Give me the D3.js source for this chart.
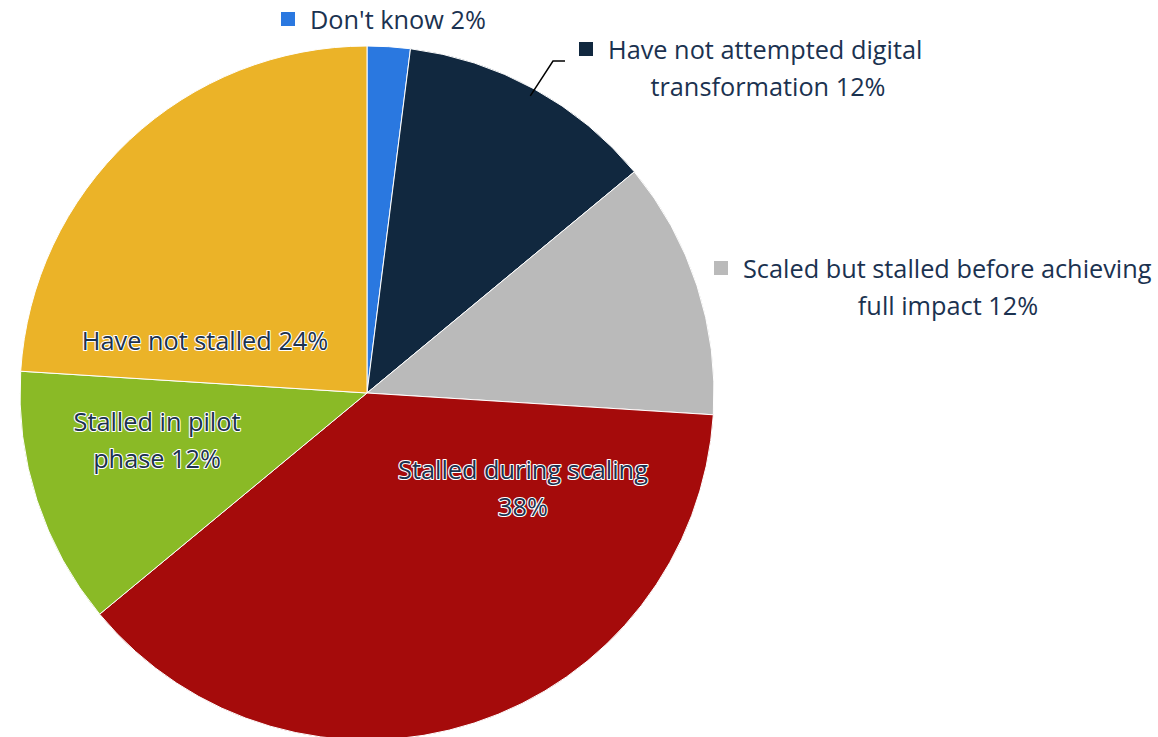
<!DOCTYPE html>
<html><head><meta charset="utf-8">
<script src="https://cdn.jsdelivr.net/npm/d3@7"></script>
<style>body{margin:0;background:#fff}svg{display:block}</style>
</head><body>
<svg id="c" width="1158" height="737"></svg>
<script>
const categories = ["Don't know", "Have not attempted digital transformation", "Scaled but stalled before achieving full impact", "Stalled during scaling", "Stalled in pilot phase", "Have not stalled"];
const values = [2, 12, 12, 38, 12, 24];
const colors = ["#2a78e0", "#11283f", "#bababa", "#a50b0b", "#8aba26", "#ebb328"];
const labelLines = [
  ["Don't know 2%"],
  ["Have not attempted digital", "transformation 12%"],
  ["Scaled but stalled before achieving", "full impact 12%"],
  ["Stalled during scaling", "38%"],
  ["Stalled in pilot", "phase 12%"],
  ["Have not stalled 24%"]
];
// layout (pixel positions relative to pie center), kept separate from data
const cx = 367, cy = 393, R = 347;
const layout = [
  {outside:true, x:-86, y:-373, line2x:0},
  {outside:true, x:212, y:-343, line2x:401, leader:true},
  {outside:true, x:347, y:-124, line2x:581},
  {outside:false, x:156, y:96},
  {outside:false, x:-210, y:48},
  {outside:false, x:-162, y:-52}
];
const txtColor = "#1b3250";
const fontSize = 25.3, lineH = 37;

const svg = d3.select("#c");
const g = svg.append("g").attr("transform", `translate(${cx},${cy})`);
const pie = d3.pie().sort(null).value(d => d).startAngle(0).endAngle(2*Math.PI);
const arcs = pie(values);
const arc = d3.arc().innerRadius(0).outerRadius(R);

g.selectAll("path.slice").data(arcs).join("path")
  .attr("class","slice")
  .attr("d", arc)
  .attr("fill", (d,i) => colors[i])
  .attr("stroke", "#fff").attr("stroke-width", 1);

const font = "'Open Sans', 'Noto Sans', sans-serif";

arcs.forEach((a, i) => {
  const L = layout[i];
  const lines = labelLines[i];
  if (L.outside) {
    g.append("rect").attr("x", L.x).attr("y", L.y - 8).attr("width", 14).attr("height", 14).attr("fill", colors[i]);
    g.append("text").attr("font-family", font).attr("font-size", fontSize).attr("fill", txtColor)
      .attr("x", L.x + 29).attr("y", L.y).attr("dy", "0.35em").attr("text-anchor","start").text(lines[0]);
    if (lines[1]) {
      g.append("text").attr("font-family", font).attr("font-size", fontSize).attr("fill", txtColor)
        .attr("x", L.line2x).attr("y", L.y + lineH).attr("dy","0.35em").attr("text-anchor","middle").text(lines[1]);
    }
    if (L.leader) {
      const mid = (a.startAngle + a.endAngle)/2;
      const p0 = [Math.sin(mid)*(R-8), -Math.cos(mid)*(R-8)];
      const p1 = [L.x - 26, L.y + 11];
      const p2 = [L.x - 14, L.y + 11];
      g.append("path").attr("d", d3.line()([p0, p1, p2]))
        .attr("fill","none").attr("stroke","#000").attr("stroke-width",1.5);
    }
  } else {
    lines.forEach((ln, k) => {
      g.append("text").attr("font-family", font).attr("font-size", fontSize)
        .attr("x", L.x).attr("y", L.y + (k - (lines.length-1)/2)*lineH).attr("dy","0.35em")
        .attr("text-anchor","middle")
        .attr("fill", txtColor).attr("stroke", "#fff").attr("stroke-width", 2.2)
        .attr("paint-order","stroke").attr("stroke-linejoin","round")
        .text(ln);
    });
  }
});
</script>
</body></html>
